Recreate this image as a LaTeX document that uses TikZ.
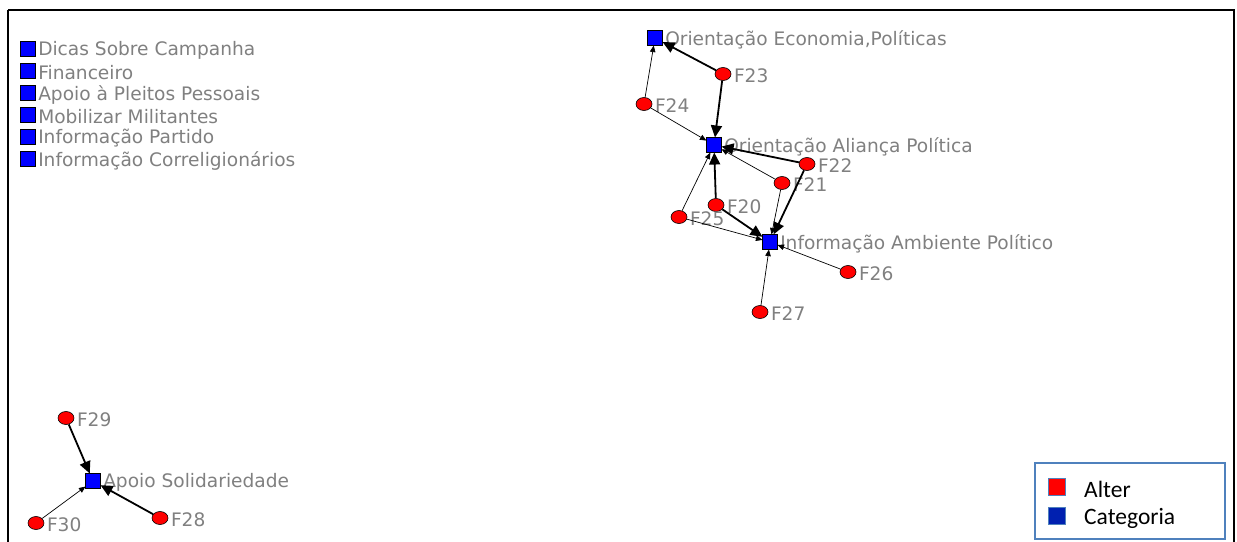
\documentclass[tikz,border=0pt]{standalone}
\usepackage{fontspec}
\setmainfont{DejaVu Sans}
\newfontfamily\legfont{Carlito}
\usetikzlibrary{shapes.geometric,arrows.meta}
\definecolor{rotulo}{HTML}{808080}
\definecolor{legborda}{HTML}{4F81BD}
\definecolor{legazul}{HTML}{0020B0}

\begin{document}
\begin{tikzpicture}[x=1pt,y=-1pt]
    \tikzset{Rotulo/.style = {text=rotulo,inner sep=1pt,yshift=-1.5pt,font=\fontsize{18.6}{22}\selectfont}}
    \tikzset{AlterNo/.style = {ellipse,draw=black,fill=red,line width=.6pt,inner sep=0pt,
        minimum width=16pt,minimum height=13pt,label={[Rotulo,label distance=1.5pt]east:#1}}}
    \tikzset{CatNo/.style = {rectangle,draw=black,fill=blue,line width=.6pt,inner sep=0pt,
        minimum size=14.5pt,label={[Rotulo,label distance=1.5pt]east:#1}}}
    \tikzset{LigaForte/.style = {line width=1.8pt,-{Triangle[length=12pt,width=11pt]}}}
    \tikzset{LigaFraca/.style = {line width=.7pt,-{Triangle[length=6.5pt,width=5.5pt]}}}

    \useasboundingbox (0,0) rectangle (1237,541);
    \clip (0,0) rectangle (1237,541);
    \draw[line width=2.2pt] (8,10) -- (1234,10) -- (1234,560) (8,10) -- (8,560);

    % categorias sem ligacao
    \node[CatNo={Dicas Sobre Campanha}]          (c1) at (28,49)  {};
    \node[CatNo={Financeiro}]                    (c2) at (28,71)  {};
    \node[CatNo={Apoio à Pleitos Pessoais}]      (c3) at (28,93)  {};
    \node[CatNo={Mobilizar Militantes}]          (c4) at (28,115) {};
    \node[CatNo={Informação Partido}]            (c5) at (28,137) {};
    \node[CatNo={Informação Correligionários}]   (c6) at (28,159) {};

    % rede principal
    \node[CatNo={Orientação Economia,Políticas}]  (oep) at (655,38)  {};
    \node[CatNo={Orientação Aliança Política}]    (oap) at (714,145) {};
    \node[CatNo={Informação Ambiente Político}]   (iap) at (770,242) {};
    \node[AlterNo=F23] (f23) at (723,74)  {};
    \node[AlterNo=F24] (f24) at (644,104) {};
    \node[AlterNo=F22] (f22) at (807,164) {};
    \node[AlterNo=F21] (f21) at (782,183) {};
    \node[AlterNo=F20] (f20) at (716,205) {};
    \node[AlterNo=F25] (f25) at (679,217) {};
    \node[AlterNo=F26] (f26) at (848,272) {};
    \node[AlterNo=F27] (f27) at (760,312) {};

    \draw[LigaForte] (f23) -- (oep);
    \draw[LigaFraca] (f24) -- (oep);
    \draw[LigaForte] (f23) -- (oap);
    \draw[LigaFraca] (f24) -- (oap);
    \draw[LigaForte] (f22) -- (oap);
    \draw[LigaFraca] (f21) -- (oap);
    \draw[LigaForte] (f20) -- (oap);
    \draw[LigaFraca] (f25) -- (oap);
    \draw[LigaForte] (f20) -- (iap);
    \draw[LigaFraca] (f25) -- (iap);
    \draw[LigaFraca] (f21) -- (iap);
    \draw[LigaForte] (f22) -- (iap);
    \draw[LigaFraca] (f26) -- (iap);
    \draw[LigaFraca] (f27) -- (iap);

    % componente isolado
    \node[CatNo={Apoio Solidariedade}] (as) at (93,481) {};
    \node[AlterNo=F29] (f29) at (66,418)  {};
    \node[AlterNo=F28] (f28) at (160,518) {};
    \node[AlterNo=F30] (f30) at (36,523)  {};

    \draw[LigaForte] (f29) -- (as);
    \draw[LigaForte] (f28) -- (as);
    \draw[LigaFraca] (f30) -- (as);

    % legenda
    \draw[legborda,line width=1.8pt,fill=white] (1035,463) rectangle (1225,539);
    \node[draw=legborda,fill=red,line width=1pt,minimum size=17pt,inner sep=0pt] (lgA) at (1057,487) {};
    \node[draw=legborda,fill=legazul,line width=1pt,minimum size=17pt,inner sep=0pt] (lgC) at (1057,516) {};
    \node[anchor=west,inner sep=0pt,font=\legfont\fontsize{23.5}{28}\selectfont] (txA) at (1084,489) {Alter};
    \node[anchor=west,inner sep=0pt,font=\legfont\fontsize{23.5}{28}\selectfont] (txC) at (1084,518) {Categoria};
\end{tikzpicture}
\end{document}
